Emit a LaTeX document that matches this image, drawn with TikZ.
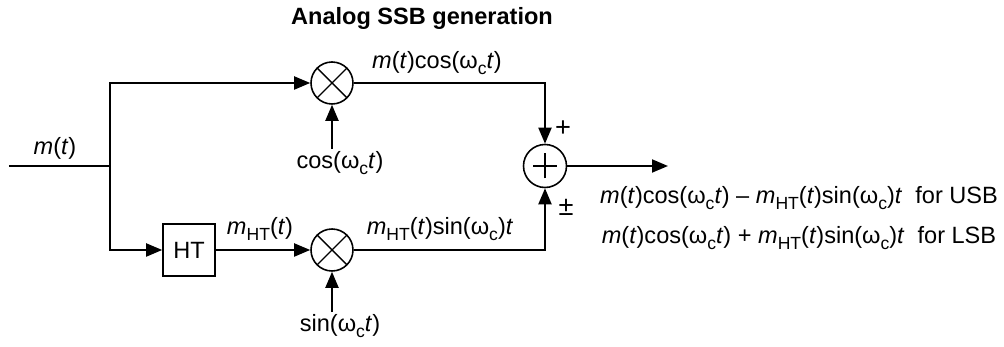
\documentclass[tikz,border=0pt]{standalone}
\usepackage{fontspec}
\setmainfont{Liberation Sans}
\usetikzlibrary{arrows.meta, positioning, calc}
\newcommand{\lowsub}[1]{\raisebox{-0.5ex}{\fontsize{10}{10}\selectfont #1}}
\newcommand{\wc}{ω\lowsub{c}}
\newcommand{\mht}{\textit{m}\lowsub{HT}}

\begin{document}
\begin{tikzpicture}[
  font=\fontsize{13.4}{16}\selectfont,
  wire/.style   ={draw=black, line width=1.1pt},
  flow/.style   ={wire, -{Triangle[length=0.32cm, width=0.26cm]}},
  mixer/.style  ={circle, draw, line width=0.9pt, minimum size=0.84cm, inner sep=0pt,
                  path picture={\draw[line width=0.8pt]
                    (path picture bounding box.north west) -- (path picture bounding box.south east)
                    (path picture bounding box.north east) -- (path picture bounding box.south west);}},
  adder/.style  ={circle, draw, line width=0.9pt, minimum size=0.86cm, inner sep=0pt,
                  path picture={\draw[line width=0.9pt]
                    ($(path picture bounding box.center)+(-0.24,0)$) -- ++(0.48,0)
                    ($(path picture bounding box.center)+(0,-0.25)$) -- ++(0,0.5);}},
  block/.style  ={rectangle, draw, line width=0.9pt, minimum size=1.04cm, inner sep=0pt},
  sig/.style    ={inner sep=1pt},
  sign/.style   ={font=\fontsize{15.5}{16}\selectfont, inner sep=0pt},
]
\useasboundingbox (0,0) rectangle (20.08,-6.94);

% ----- Title -----
\node[font=\fontsize{13.4}{16}\selectfont\bfseries] (title) at (8.44,-0.36) {Analog SSB generation};

% ----- Blocks -----
\coordinate (in)    at (0.18,-3.32);
\coordinate (split) at (2.2,-3.32);
\node[mixer] (mixA)  at (6.64,-1.66) {};
\node[mixer] (mixB)  at (6.64,-5.0) {};
\node[block] (HT)    at (3.78,-5.0) {HT};
\node[adder] (adder) at (10.9,-3.32) {};
\coordinate (out)   at (13.36,-3.32);

% ----- Carrier inputs -----
\node[sig] (cosin) at (6.8,-3.26) {cos(\wc\textit{t})};
\node[sig] (sinin) at (6.8,-6.52) {sin(\wc\textit{t})};

% ----- Connectors -----
\draw[wire] (in) -- (split);
\draw[flow] (split) |- (mixA.west);
\draw[flow] (split) |- (HT.west);
\draw[flow] (HT.east) -- (mixB.west);
\draw[flow] (cosin.north -| mixA) -- (mixA.south);
\draw[flow] (sinin.north -| mixB) -- (mixB.south);
\draw[flow] (mixA.east) -| (adder.north);
\draw[flow] (mixB.east) -| (adder.south);
\draw[flow] (adder.east) -- (out);

% ----- Signal labels -----
\node[sig] (lblIn)   at (1.1,-2.96)  {\textit{m}(\textit{t})};
\node[sig] (lblCos)  at (8.74,-1.26) {\textit{m}(\textit{t})cos(\wc\textit{t})};
\node[sig] (lblHT)   at (5.2,-4.58)  {\mht(\textit{t})};
\node[sig] (lblSin)  at (8.8,-4.58)  {\mht(\textit{t})sin(\wc)\textit{t}};
\node[sign] (plus)   at (11.26,-2.58) {+};
\node[sign] (pm)     at (11.32,-4.14) {±};

% ----- Output expressions -----
\node[sig] (usb) at (15.98,-3.96)
  {\textit{m}(\textit{t})cos(\wc\textit{t}) – \mht(\textit{t})sin(\wc)\textit{t}\ \ for USB};
\node[sig] (lsb) at (15.98,-4.76)
  {\textit{m}(\textit{t})cos(\wc\textit{t}) + \mht(\textit{t})sin(\wc)\textit{t}\ \ for LSB};

\end{tikzpicture}
\end{document}
